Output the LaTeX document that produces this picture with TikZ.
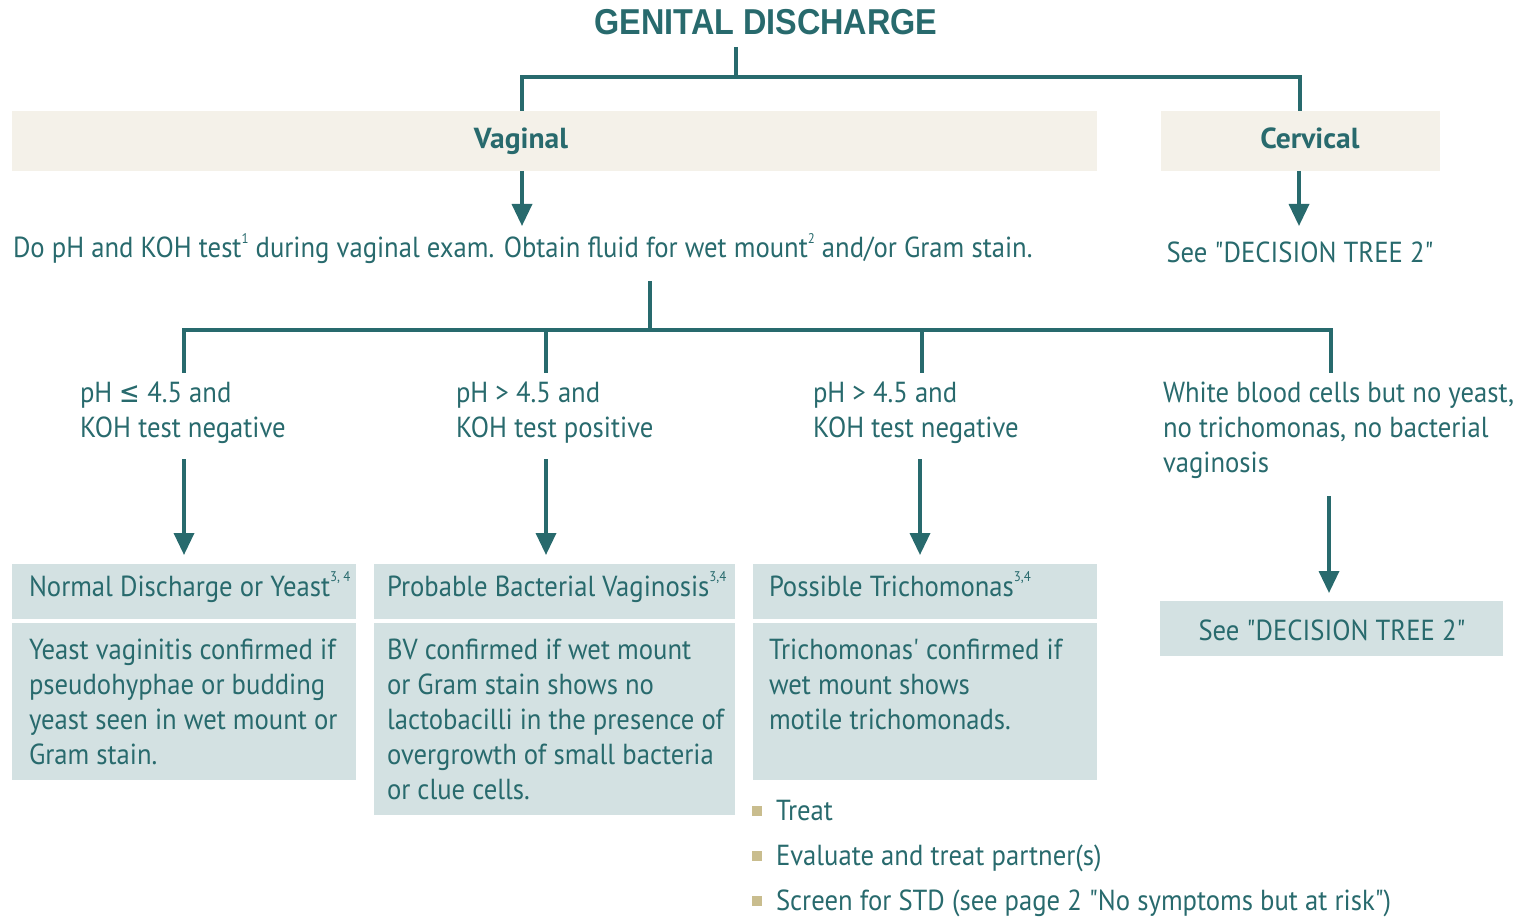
\documentclass[tikz,border=0pt]{standalone}
\usepackage{fontspec}
\setmainfont{PT Sans}[FakeStretch=0.92, Ligatures=TeXOff]
\newfontfamily\hdrfont{PT Sans}[FakeStretch=1.02, Ligatures=TeXOff]
\newfontfamily\titlefont{Liberation Sans}[FakeStretch=0.9]
\newfontfamily\symfont{DejaVu Sans}[FakeStretch=0.85]
\usetikzlibrary{arrows.meta}
\definecolor{dteal}{HTML}{286A6D}
\definecolor{boxbeige}{HTML}{F4F1E9}
\definecolor{boxblue}{HTML}{D3E1E2}
\definecolor{bultan}{HTML}{C9BD8E}
\newcommand\supnum[1]{\raisebox{0.5em}{\fontsize{14}{14}\selectfont #1}}
\begin{document}
\begin{tikzpicture}[x=1pt,y=-1pt,
  every node/.style={text=dteal, inner sep=0pt, outer sep=0pt},
  conn/.style={draw=dteal, line width=3.5pt},
  arr/.style={conn, -{Triangle[width=20pt,length=22pt]}},
  txt/.style={font=\fontsize{29}{35}\selectfont, align=left},
  hdr/.style={font=\hdrfont\bfseries\fontsize{29}{34}\selectfont, anchor=base},
  hbox/.style={fill=boxbeige, minimum height=60pt, anchor=north west},
  bbox/.style={fill=boxblue, anchor=north west},
  bul/.style={fill=bultan, minimum width=10pt, minimum height=10pt}
]
\useasboundingbox (0,0) rectangle (1524,917);

% title
\node[font=\titlefont\bfseries\fontsize{36}{40}\selectfont, anchor=base] (title) at (766,35) {GENITAL DISCHARGE};

% top level boxes
\node[hbox, minimum width=1085pt] (vag) at (12,111) {};
\node[hbox, minimum width=279pt] (cerv) at (1161,111) {};
\node[hdr] (vagl) at (521,149) {Vaginal};
\node[hdr] (cervl) at (1310,149) {Cervical};

% top connectors
\coordinate (h1) at (736,77);
\coordinate (h1top) at (736,47);
\coordinate (vx) at (522,111);
\coordinate (cx) at (1300,111);
\draw[conn] (h1top) -- (h1);
\draw[conn] (vx) |- (h1) -| (cx);

% second level
\coordinate (a1) at (522,226);
\coordinate (a2) at (1299,226);
\draw[arr] (vag.south -| a1) -- (a1);
\draw[arr] (cerv.south -| a2) -- (a2);
\node[txt, anchor=base west] (dotext) at (13,258) {Do pH and KOH test\supnum{1} during vaginal exam. Obtain fluid for wet mount\supnum{2} and/or Gram stain.};
\node[txt, anchor=base] (seec) at (1300,263) {See "DECISION TREE 2"};

% branch to conditions
\coordinate (h2top) at (650,281);
\coordinate (h2) at (650,330);
\coordinate (d1) at (184,373);
\coordinate (d2) at (546,373);
\coordinate (d3) at (922,373);
\coordinate (d4) at (1331,373);
\draw[conn] (h2top) -- (h2);
\draw[conn] (d1) |- (h2) -| (d4);
\draw[conn] (d2) -- (d2 |- h2);
\draw[conn] (d3) -- (d3 |- h2);

% conditions (base anchor = last line's baseline)
\node[txt, anchor=base west] (c1) at (80,437) {pH {\symfont ≤} 4.5 and\\KOH test negative};
\node[txt, anchor=base west] (c2) at (456,437) {pH > 4.5 and\\KOH test positive};
\node[txt, anchor=base west] (c3) at (813,437) {pH > 4.5 and\\KOH test negative};
\node[txt, anchor=base west] (c4) at (1163,472) {White blood cells but no yeast,\\no trichomonas, no bacterial\\vaginosis};

% arrows to results
\coordinate (e1s) at (184,459); \coordinate (e1) at (184,555);
\coordinate (e2s) at (546,459); \coordinate (e2) at (546,555);
\coordinate (e3s) at (920,459); \coordinate (e3) at (920,555);
\coordinate (e4s) at (1329,496); \coordinate (e4) at (1329,593);
\draw[arr] (e1s) -- (e1);
\draw[arr] (e2s) -- (e2);
\draw[arr] (e3s) -- (e3);
\draw[arr] (e4s) -- (e4);

% result boxes
\node[bbox, minimum width=344pt, minimum height=55pt] (hb1) at (12,564) {};
\node[bbox, minimum width=361pt, minimum height=55pt] (hb2) at (374,564) {};
\node[bbox, minimum width=344pt, minimum height=55pt] (hb3) at (753,564) {};
\node[bbox, minimum width=344pt, minimum height=157pt] (bb1) at (12,623) {};
\node[bbox, minimum width=361pt, minimum height=192pt] (bb2) at (374,623) {};
\node[bbox, minimum width=344pt, minimum height=157pt] (bb3) at (753,623) {};
\node[bbox, minimum width=343pt, minimum height=55pt] (sb) at (1160,601) {};

\node[txt, anchor=base west] (ht1) at (29,596) {Normal Discharge or Yeast\supnum{3, 4}};
\node[txt, anchor=base west] (ht2) at (387,596) {Probable Bacterial Vaginosis\supnum{3,4}};
\node[txt, anchor=base west] (ht3) at (769,596) {Possible Trichomonas\supnum{3,4}};
\node[txt, anchor=base west] (bt1) at (29,764) {Yeast vaginitis confirmed if\\pseudohyphae or budding\\yeast seen in wet mount or\\Gram stain.};
\node[txt, anchor=base west] (bt2) at (387,799) {BV confirmed if wet mount\\or Gram stain shows no\\lactobacilli in the presence of\\overgrowth of small bacteria\\or clue cells.};
\node[txt, anchor=base west] (bt3) at (769,729) {Trichomonas' confirmed if\\wet mount shows\\motile trichomonads.};
\node[txt, anchor=base] (st) at (1332,640) {See "DECISION TREE 2"};

% bullets
\node[bul] (s1) at (757,811) {};
\node[bul] (s2) at (757,856) {};
\node[bul] (s3) at (757,901) {};
\node[txt, anchor=base west] (l1) at (776,820) {Treat};
\node[txt, anchor=base west] (l2) at (776,865) {Evaluate and treat partner(s)};
\node[txt, anchor=base west] (l3) at (776,910) {Screen for STD (see page 2 "No symptoms but at risk")};
\end{tikzpicture}
\end{document}
